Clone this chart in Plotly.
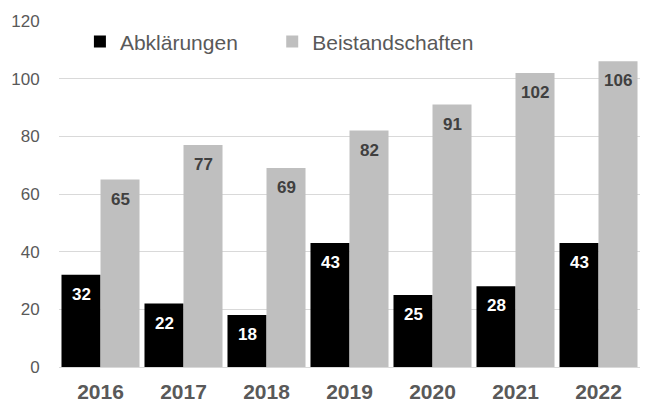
import plotly.graph_objects as go

years = ["2016", "2017", "2018", "2019", "2020", "2021", "2022"]
abklaerungen = [32, 22, 18, 43, 25, 28, 43]
beistandschaften = [65, 77, 69, 82, 91, 102, 106]

FONT = "Liberation Sans, Arial, sans-serif"
pos = list(range(len(years)))

fig = go.Figure()
fig.add_trace(go.Bar(name="Abklärungen", x=pos, y=abklaerungen, marker_color="#000000",
                     marker_line_width=0, legend="legend"))
fig.add_trace(go.Bar(name="Beistandschaften", x=pos, y=beistandschaften, marker_color="#bfbfbf",
                     marker_line_width=0, legend="legend2"))

annotations = []
for i in pos:
    annotations.append(dict(x=i, y=abklaerungen[i], text=f"<b>{abklaerungen[i]}</b>", xref="x", yref="y",
                            showarrow=False, xshift=-19.5, yshift=-8, yanchor="top",
                            font=dict(family=FONT, size=17, color="#ffffff")))
    annotations.append(dict(x=i, y=beistandschaften[i], text=f"<b>{beistandschaften[i]}</b>", xref="x", yref="y",
                            showarrow=False, xshift=19.5, yshift=-8, yanchor="top",
                            font=dict(family=FONT, size=17, color="#404040")))

legend_style = dict(orientation="h", y=0.94, xanchor="left", yanchor="middle",
                    font=dict(family=FONT, size=21, color="#595959"), bgcolor="rgba(0,0,0,0)")

fig.update_layout(
    width=645, height=402,
    margin=dict(l=59, r=5, t=21, b=35, autoexpand=False),
    barmode="group", bargap=0.06, bargroupgap=0,
    plot_bgcolor="white", paper_bgcolor="white",
    font=dict(family=FONT, color="#595959"),
    showlegend=True,
    legend=dict(x=0.036, **legend_style),
    legend2=dict(x=0.367, **legend_style),
    annotations=annotations,
)
fig.update_yaxes(range=[0, 120], dtick=20, showgrid=True, gridcolor="#d9d9d9", gridwidth=1,
                 zeroline=False, showline=False, ticks="outside", ticklen=15, tickcolor="rgba(0,0,0,0)",
                 tickfont=dict(family=FONT, size=17, color="#595959"))
fig.update_xaxes(range=[-0.5, len(years) - 0.5], showgrid=False, showline=True, linecolor="#d9d9d9", linewidth=1,
                 ticks="outside", ticklen=6, tickcolor="rgba(0,0,0,0)",
                 tickfont=dict(family=FONT, size=21, color="#595959"),
                 tickvals=pos, ticktext=[f"<b>{y}</b>" for y in years])

fig.write_html("out.html", config={"displayModeBar": False},
               post_script="document.body.style.margin='0';")
